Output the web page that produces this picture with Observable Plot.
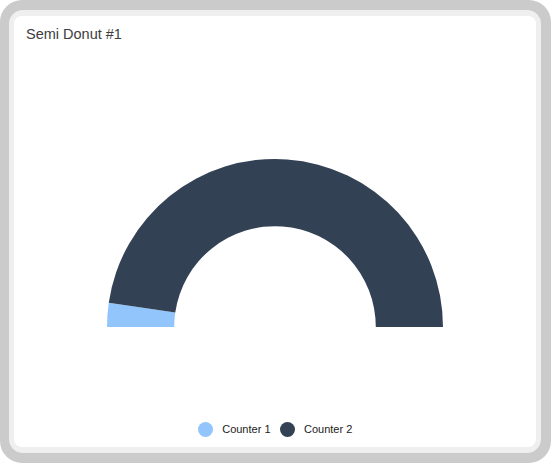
<!DOCTYPE html>
<html>
<head>
<meta charset="utf-8">
<script src="https://cdn.jsdelivr.net/npm/d3@7"></script>
<script src="https://cdn.jsdelivr.net/npm/@observablehq/plot@0.6"></script>
<style>
  html, body { margin: 0; padding: 0; background: #fff; }
  .card { position: absolute; left: 0; top: 0; width: 551px; height: 463px; box-sizing: border-box;
          background: #cbcbcb; border-radius: 22px; padding: 10px 10px 10px 9px; }
  .inner { background: #efefef; border-radius: 14px; width: 100%; height: 100%; box-sizing: border-box;
           padding: 6px 5px 6px 5px; }
  .panel { background: #fff; border-radius: 8px; width: 100%; height: 100%; position: relative; }
  .title { position: absolute; left: 12px; top: 10px; font-family: "Liberation Sans", Arial, sans-serif;
           font-size: 14.5px; line-height: 16px; color: #3d3d3d; }
  #chart { position: absolute; left: 0; top: 40px; }
  #legend { position: absolute; left: 0; right: 0; top: 405px; height: 16px; display: flex;
            justify-content: center; align-items: center; font-family: "Liberation Sans", Arial, sans-serif;
            font-size: 11px; color: #222; }
  .item { display: flex; align-items: center; margin: 0 4.5px; }
  .sw { width: 15px; height: 15px; border-radius: 50%; margin-right: 9.5px; }
  #dbg { position: absolute; left: 30px; top: 60px; font: 10px monospace; color: red; }
</style>
</head>
<body>
<div class="card"><div class="inner"><div class="panel">
  <div class="title">Semi Donut #1</div>
  <div id="chart"></div>
  <div id="legend"></div>
</div></div></div>
<div id="dbg"></div>
<script>
const categories = ["Counter 1", "Counter 2"];
const values = [4.6, 95.4];
const colors = ["#93c5fd", "#334155"];

const dbg = (s) => { document.getElementById("dbg").innerHTML += s + "<br>"; };
try {
const data = categories.map((category, i) => ({category, value: values[i]}));
const slices = d3.pie().sort(null).value(d => d.value)
  .startAngle(-Math.PI / 2).endAngle(Math.PI / 2)(data);
const innerRatio = 0.6;

const semiDonut = (index, scales, vals, dims) => {
  const fw = dims.width - dims.marginLeft - dims.marginRight;
  const rOuter = fw / 2;
  const cx = dims.marginLeft + rOuter;
  const cy = dims.height - dims.marginBottom;
  const arc = d3.arc().innerRadius(rOuter * innerRatio).outerRadius(rOuter);
  const g = d3.create("svg:g").attr("transform", `translate(${cx},${cy})`);
  g.selectAll("path").data(slices).join("path")
    .attr("d", arc)
    .attr("fill", d => scales.color(d.data.category));
  return g.node();
};

const chart = Plot.plot({
  width: 522,
  height: 360,
  marginLeft: 93,
  marginRight: 93,
  marginTop: 103,
  marginBottom: 89,
  style: {background: "transparent", overflow: "visible"},
  color: {domain: categories, range: colors},
  marks: [semiDonut]
});
document.getElementById("chart").append(chart);

const color = chart.scale("color");
const legend = document.getElementById("legend");
for (const c of categories) {
  const item = document.createElement("div");
  item.className = "item";
  const sw = document.createElement("span");
  sw.className = "sw";
  sw.style.background = color.apply(c);
  const label = document.createElement("span");
  label.textContent = c;
  item.append(sw, label);
  legend.append(item);
}
} catch (e) { dbg("ERR " + e.message); }
</script>
</body>
</html>
